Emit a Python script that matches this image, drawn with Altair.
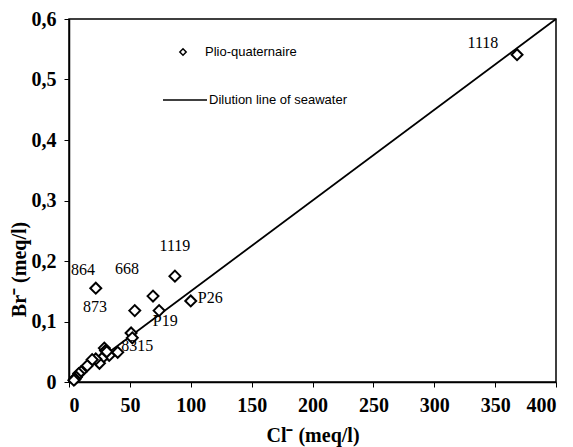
import altair as alt
import pandas as pd

# Data points (Cl- vs Br-, meq/l)
cl = [22, 54, 69, 87, 74, 100, 51, 52, 40, 33, 29, 30, 31, 27, 25, 22, 19, 15, 10, 8, 6, 5, 4, 368]
br = [0.155, 0.118, 0.142, 0.175, 0.118, 0.134, 0.081, 0.073, 0.049, 0.044, 0.056, 0.052,
      0.050, 0.039, 0.031, 0.038, 0.037, 0.027, 0.017, 0.014, 0.008, 0.005, 0.003, 0.541]

# Seawater dilution line
line_cl = [0, 400]
line_br = [0, 0.6]

# Sample labels
lab_text = ["864", "873", "668", "1119", "P19", "P26", "8315", "1118"]
lab_cl = [11.5, 21.4, 47.6, 87, 79, 116, 56, 340]
lab_br = [0.185, 0.124, 0.187, 0.225, 0.101, 0.139, 0.060, 0.560]

pts = pd.DataFrame({"cl": cl, "br": br})
ln = pd.DataFrame({"cl": line_cl, "br": line_br})
labs = pd.DataFrame({"cl": lab_cl, "br": lab_br, "t": lab_text})

xs = alt.Scale(domain=[0, 400], nice=False, zero=True)
ys = alt.Scale(domain=[0, 0.6], nice=False, zero=True)

xax = alt.Axis(values=[0, 50, 100, 150, 200, 250, 300, 350, 400], title="Cl⁻ (meq/l)",
               labelFontSize=20, titleFontSize=20, labelPadding=8,
               titleY=53, titleBaseline="middle")
yax = alt.Axis(values=[0, 0.1, 0.2, 0.3, 0.4, 0.5, 0.6], title="Br⁻  (meq/l)",
               labelExpr="datum.value == 0 ? '0' : replace(format(datum.value, '.1f'), '.', ',')",
               labelFontSize=20, titleFontSize=20, labelPadding=8,
               titleX=-50, titleY=250, titleAlign="center", titleBaseline="middle")

line = alt.Chart(ln).mark_line(color="black", strokeWidth=1.8).encode(
    x=alt.X("cl:Q", scale=xs, axis=xax),
    y=alt.Y("br:Q", scale=ys, axis=yax),
)

points = alt.Chart(pts).mark_point(shape="diamond", filled=True, fill="white",
                                   stroke="black", strokeWidth=2, size=120, opacity=1).encode(
    x=alt.X("cl:Q", scale=xs, axis=xax),
    y=alt.Y("br:Q", scale=ys, axis=yax),
)

labels = alt.Chart(labs).mark_text(font="Liberation Serif", fontSize=16, fill="black").encode(
    x=alt.X("cl:Q", scale=xs, axis=xax),
    y=alt.Y("br:Q", scale=ys, axis=yax),
    text="t:N",
)

# Legend drawn inside the plot
leg_sym = alt.Chart(pd.DataFrame({"a": [0]})).mark_point(
    shape="diamond", filled=True, fill="white", stroke="black", strokeWidth=1.5, size=40, opacity=1
).encode(x=alt.value(114), y=alt.value(33))
leg_t1 = alt.Chart(pd.DataFrame({"t": ["Plio-quaternaire"]})).mark_text(
    align="left", baseline="middle", font="Liberation Sans", fontSize=13, fill="black"
).encode(x=alt.value(136), y=alt.value(33), text="t:N")
leg_line = alt.Chart(pd.DataFrame({"a": [0]})).mark_rule(color="black", strokeWidth=1.5).encode(
    x=alt.value(94), x2=alt.value(138), y=alt.value(81))
leg_t2 = alt.Chart(pd.DataFrame({"t": ["Dilution line of seawater"]})).mark_text(
    align="left", baseline="middle", font="Liberation Sans", fontSize=13, fill="black"
).encode(x=alt.value(140), y=alt.value(81), text="t:N")

chart = alt.layer(line, points, labels, leg_sym, leg_t1, leg_line, leg_t2).properties(
    width=487, height=363,
    padding={"left": 69, "top": 19, "right": 17, "bottom": 65},
    autosize=alt.AutoSizeParams(type="none"),
    background="white",
).configure_view(stroke="black", strokeWidth=1.5).configure_axis(
    grid=False,
    labelFont="Liberation Serif", labelFontWeight="bold", labelColor="black",
    titleFont="Liberation Serif", titleFontWeight="bold", titleColor="black",
    domainColor="black", domainWidth=1.5, tickColor="black", tickSize=5, tickWidth=1,
)

chart.save("out.html", embed_options={"renderer": "svg", "actions": False})
